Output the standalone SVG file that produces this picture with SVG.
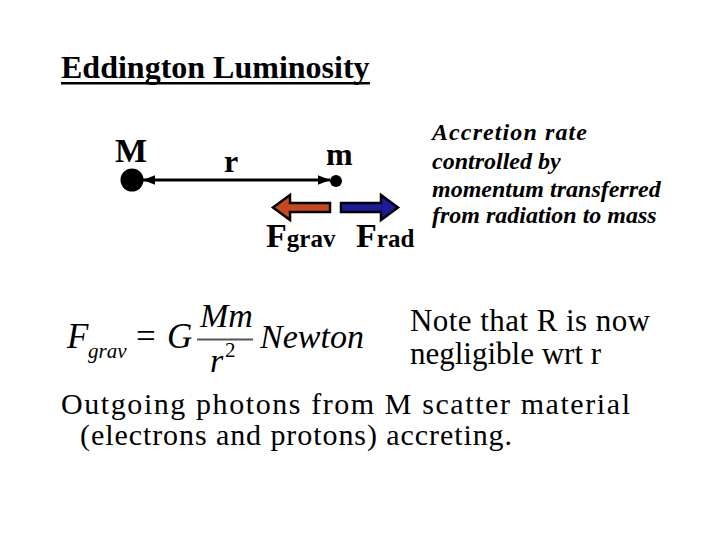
<svg xmlns="http://www.w3.org/2000/svg" width="720" height="540" viewBox="0 0 720 540">
<defs>
<style>
text{font-family:'Liberation Serif','Times New Roman','DejaVu Serif',serif;fill:#000}
.b{font-weight:bold}
.i{font-style:italic}
</style>
<marker id="ah" viewBox="0 0 10 10" refX="10" refY="5" markerWidth="4" markerHeight="4" orient="auto-start-reverse">
<path d="M0,1 L10,5 L0,9 Z" fill="#000"/>
</marker>
</defs>
<rect width="720" height="540" fill="#fff"/>
<g id="title">
<text class="b" x="61" y="78" font-size="32">Eddington Luminosity</text>
<rect x="61" y="82" width="309" height="2.5" fill="#000"/>
</g>
<g id="node-M">
<circle cx="132" cy="180" r="11.5" fill="#000"/>
<text class="b" x="115" y="162" font-size="34">M</text>
</g>
<g id="node-m">
<circle cx="336" cy="181" r="6" fill="#000"/>
<text class="b" x="326" y="165" font-size="32">m</text>
</g>
<g id="connectors">
<line x1="143" y1="180" x2="330" y2="180" stroke="#000" stroke-width="3" marker-start="url(#ah)" marker-end="url(#ah)"/>
<text class="b" x="224" y="172" font-size="32">r</text>
</g>
<g id="force-grav">
<path d="M273,207.5 L290,195 L290,203 L330,203 L330,212 L290,212 L290,220 Z" fill="#c8481e" stroke="#000" stroke-width="2.5" stroke-linejoin="miter"/>
<text class="b" x="266" y="247" font-size="34">F<tspan font-size="25">grav</tspan></text>
</g>
<g id="force-rad">
<path d="M398,207.5 L381,195 L381,203 L341,203 L341,212 L381,212 L381,220 Z" fill="#1c1c9c" stroke="#000" stroke-width="2.5" stroke-linejoin="miter"/>
<text class="b" x="356" y="247" font-size="34">F<tspan font-size="25">rad</tspan></text>
</g>
<g id="note-accretion">
<text class="b i" font-size="24">
<tspan x="432" y="140" textLength="155" lengthAdjust="spacing">Accretion rate</tspan>
<tspan x="432" y="169">controlled by</tspan>
<tspan x="432" y="197">momentum transferred</tspan>
<tspan x="432" y="223">from radiation to mass</tspan>
</text>
</g>
<g id="equation">
<text class="i" x="67" y="348" font-size="35">F</text>
<text class="i" x="88" y="358" font-size="21">grav</text>
<text x="136" y="348" font-size="35">=</text>
<text class="i" x="167" y="348" font-size="35">G</text>
<text class="i" x="200" y="327" font-size="34">Mm</text>
<line x1="197" y1="339.5" x2="253" y2="339.5" stroke="#555" stroke-width="2"/>
<text class="i" x="210" y="372" font-size="34">r</text>
<text x="225" y="357" font-size="21">2</text>
<text class="i" x="260" y="348" font-size="34">Newton</text>
</g>
<g id="note-R">
<text font-size="31">
<tspan x="410" y="331" textLength="240" lengthAdjust="spacing">Note that R is now</tspan>
<tspan x="410" y="364">negligible wrt r</tspan>
</text>
</g>
<g id="bottom-text">
<text font-size="30">
<tspan x="61" y="414" textLength="569" lengthAdjust="spacing">Outgoing photons from M scatter material</tspan>
<tspan x="80" y="445" textLength="432" lengthAdjust="spacing">(electrons and protons) accreting.</tspan>
</text>
</g>
</svg>
